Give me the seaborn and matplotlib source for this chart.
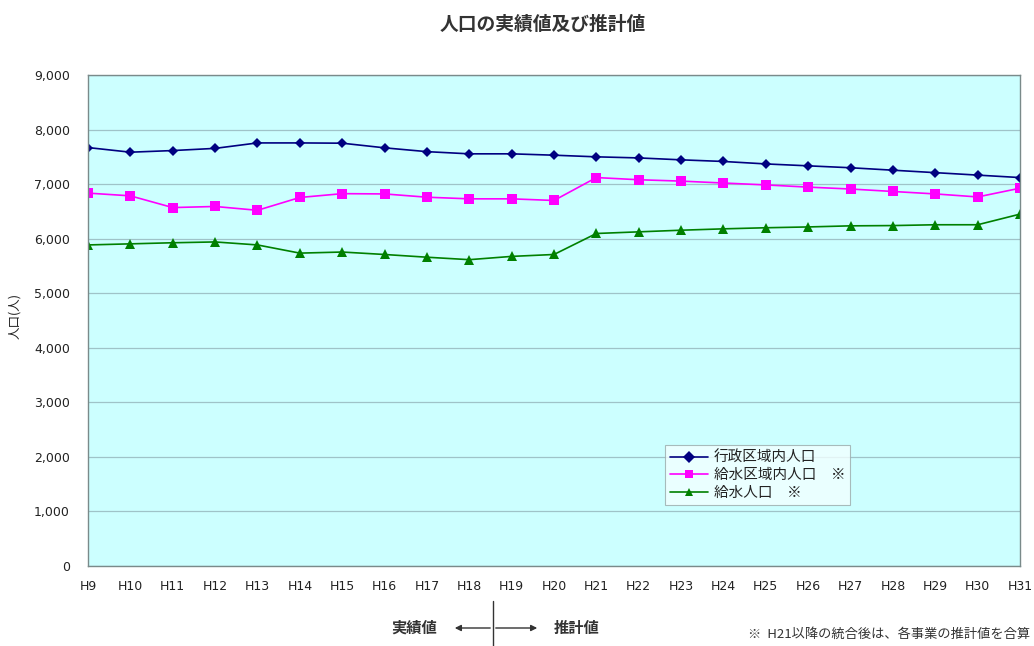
import matplotlib
matplotlib.use("Agg")
import matplotlib.pyplot as plt
import seaborn as sns
import pandas as pd

# Fiscal years (Heisei)
years = ["H9", "H10", "H11", "H12", "H13", "H14", "H15", "H16", "H17", "H18", "H19", "H20",
         "H21", "H22", "H23", "H24", "H25", "H26", "H27", "H28", "H29", "H30", "H31"]

# Population series
admin_pop = [7670, 7585, 7615, 7655, 7755, 7755, 7750, 7665, 7595, 7555, 7555, 7530,
             7500, 7480, 7445, 7415, 7370, 7335, 7300, 7255, 7210, 7165, 7120]
service_area_pop = [6835, 6785, 6570, 6590, 6520, 6755, 6825, 6820, 6760, 6730, 6730, 6700,
                    7120, 7080, 7055, 7020, 6985, 6945, 6910, 6865, 6820, 6765, 6925]
served_pop = [5885, 5905, 5925, 5940, 5885, 5735, 5755, 5710, 5660, 5615, 5675, 5710,
              6095, 6125, 6155, 6180, 6200, 6215, 6235, 6240, 6255, 6255, 6450]

series_names = ["行政区域内人口", "給水区域内人口　※", "給水人口　※"]
series_values = [admin_pop, service_area_pop, served_pop]

y_ticks = [0, 1000, 2000, 3000, 4000, 5000, 6000, 7000, 8000, 9000]

rows = []
for name, vals in zip(series_names, series_values):
    for i, (yr, v) in enumerate(zip(years, vals)):
        rows.append({"idx": i, "year": yr, "series": name, "pop": v})
df = pd.DataFrame(rows)

sns.set_theme(style="white")
plt.rcParams["font.family"] = ["Noto Sans CJK JP", "DejaVu Sans"]

fig = plt.figure(figsize=(10.34, 6.46), dpi=100)
ax = fig.add_axes([88 / 1034, 1 - 566 / 646, (1020 - 88) / 1034, (566 - 75) / 646])
ax.set_facecolor("#CCFFFF")

palette = {series_names[0]: "#000080",
           series_names[1]: "#FF00FF",
           series_names[2]: "#008000"}
markers = {series_names[0]: "D", series_names[1]: "s", series_names[2]: "^"}
sizes = {series_names[0]: 5, series_names[1]: 7, series_names[2]: 6.5}

sns.lineplot(data=df, x="idx", y="pop", hue="series", style="series",
             palette=palette, markers=markers, dashes=False, ax=ax,
             linewidth=1.2, markersize=6, markeredgewidth=0, legend=True)
for line, name in zip(ax.lines[:3], series_names):
    line.set_markersize(sizes[name])

ax.set_xlim(0, len(years) - 1)
ax.set_ylim(0, 9000)
ax.set_yticks(y_ticks)
ax.set_yticklabels([f"{v:,}" for v in y_ticks], fontsize=9, color="#222222",
                   family="DejaVu Sans")
ax.set_xticks(range(len(years)))
ax.set_xticklabels(years, fontsize=9, color="#222222", family="DejaVu Sans")
ax.tick_params(axis="x", length=0, pad=10)
ax.tick_params(axis="y", length=0, pad=13)
ax.yaxis.grid(True, color="#9FC3C8", linewidth=0.9)
ax.xaxis.grid(False)
for s in ax.spines.values():
    s.set_color("#7A8A8A")
    s.set_linewidth(1.0)
ax.set_xlabel("")
ax.set_ylabel("")

fig.text(15 / 1034, 1 - 316 / 646, "人口(人)", rotation=90, ha="center", va="center",
         fontsize=9, color="#222222")

leg = ax.legend(loc="lower left", bbox_to_anchor=((665 - 88) / 932, (566 - 505) / 491),
                borderaxespad=0, frameon=True, fontsize=10.5, handlelength=2.6,
                borderpad=0.35, labelspacing=0.25, handletextpad=0.4, fancybox=False)
leg.get_frame().set_edgecolor("#9AAAAA")
leg.get_frame().set_facecolor("#F2FFFF")
leg.get_frame().set_linewidth(0.8)
for t in leg.get_texts():
    t.set_color("#222222")

fig.text(543 / 1034, 1 - 24 / 646, "人口の実績値及び推計値", ha="center", va="center",
         fontsize=13.5, fontweight="bold", color="#333333")

# Actual / projected divider below the axis
fig.text(414 / 1034, 1 - 628 / 646, "実績値", ha="center", va="center",
         fontsize=11, fontweight="bold", color="#333333")
fig.text(577 / 1034, 1 - 628 / 646, "推計値", ha="center", va="center",
         fontsize=11, fontweight="bold", color="#333333")
fig.add_artist(plt.Line2D([493 / 1034, 493 / 1034], [1 - 601 / 646, 0],
                          transform=fig.transFigure, color="#333333", linewidth=1.0))
fig.add_artist(matplotlib.patches.FancyArrowPatch(
    (493 / 1034, 1 - 628 / 646), (452 / 1034, 1 - 628 / 646),
    transform=fig.transFigure, arrowstyle="-|>", mutation_scale=9,
    color="#333333", linewidth=1.0))
fig.add_artist(matplotlib.patches.FancyArrowPatch(
    (493 / 1034, 1 - 628 / 646), (540 / 1034, 1 - 628 / 646),
    transform=fig.transFigure, arrowstyle="-|>", mutation_scale=9,
    color="#333333", linewidth=1.0))

fig.text(748 / 1034, 1 - 634 / 646, "※  H21以降の統合後は、各事業の推計値を合算",
         ha="left", va="center", fontsize=9.5, color="#333333")

fig.savefig("out.png", dpi=100, facecolor="white")
